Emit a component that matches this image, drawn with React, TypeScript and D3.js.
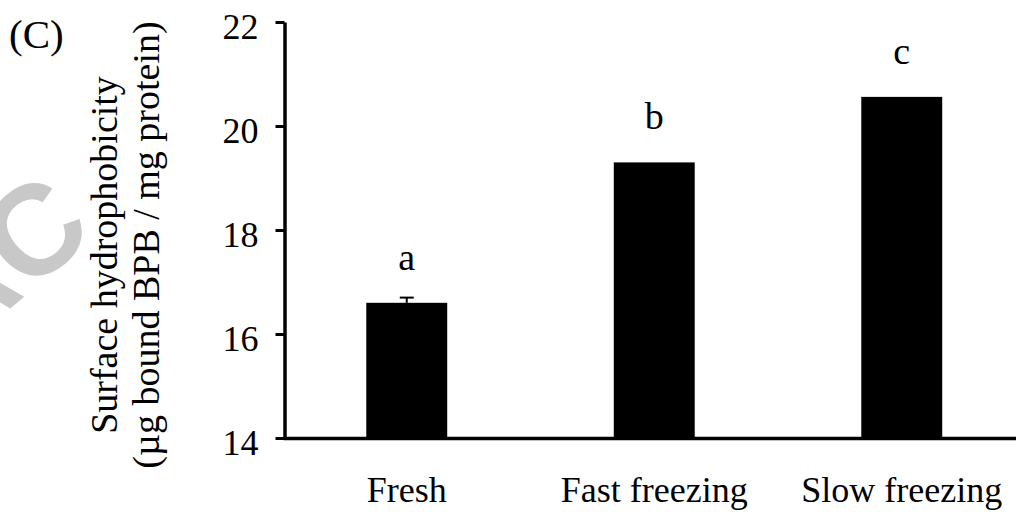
import React, { useEffect, useRef } from 'react';
import * as d3 from 'd3';

const categories = ['Fresh', 'Fast freezing', 'Slow freezing'];
const values = [16.6, 19.3, 20.56];
const errors = [0.1, 0, 0];
const letters = ['a', 'b', 'c'];
const yTicks = [14, 16, 18, 20, 22];

const App = () => {
  const svgRef = useRef<SVGSVGElement>(null);

  useEffect(() => {
    const width = 1016;
    const height = 512;
    const svg = d3.select(svgRef.current);
    svg.selectAll('*').remove();
    svg.attr('width', width).attr('height', height);

    const font = '"Liberation Serif", "Times New Roman", serif';

    // faint watermark fragment at the left edge
    svg.append('text')
      .attr('transform', 'translate(-44,354) rotate(-40)')
      .style('font-family', '"Liberation Sans", Arial, sans-serif')
      .style('font-weight', 'bold')
      .style('font-size', '128px')
      .style('fill', '#c8c8c8')
      .text('AC');

    const x = d3.scaleBand()
      .domain(categories)
      .range([283, 1025.5])
      .paddingInner(0.673)
      .paddingOuter(0.3365);
    const y = d3.scaleLinear().domain([14, 22]).range([438, 22]);

    // bars
    svg.selectAll('rect.bar')
      .data(values)
      .enter()
      .append('rect')
      .attr('class', 'bar')
      .attr('x', (d, i) => x(categories[i]))
      .attr('y', d => y(d))
      .attr('width', x.bandwidth())
      .attr('height', d => y(14) - y(d))
      .style('fill', '#000');

    // error bar (only visible for Fresh)
    values.forEach((v, i) => {
      if (errors[i] <= 0) return;
      const cx = x(categories[i]) + x.bandwidth() / 2;
      svg.append('line')
        .attr('x1', cx).attr('x2', cx)
        .attr('y1', y(v)).attr('y2', y(v + errors[i]))
        .style('stroke', '#000').style('stroke-width', 2);
      svg.append('line')
        .attr('x1', cx - 7).attr('x2', cx + 7)
        .attr('y1', y(v + errors[i])).attr('y2', y(v + errors[i]))
        .style('stroke', '#000').style('stroke-width', 2);
    });

    // significance letters
    svg.selectAll('text.sig')
      .data(letters)
      .enter()
      .append('text')
      .attr('class', 'sig')
      .attr('x', (d, i) => x(categories[i]) + x.bandwidth() / 2)
      .attr('y', (d, i) => y(values[i]) - 33)
      .style('text-anchor', 'middle')
      .style('font-family', font)
      .style('font-size', '38px')
      .text(d => d);

    // y axis
    const yAxis = svg.append('g')
      .attr('transform', 'translate(284.5,0)')
      .call(d3.axisLeft(y).tickValues(yTicks).tickSize(9).tickSizeOuter(0).tickPadding(17));
    yAxis.select('.domain').style('stroke-width', 3.5);
    yAxis.selectAll('.tick line').style('stroke-width', 3);
    yAxis.selectAll('.tick text')
      .attr('dy', '0.45em')
      .style('font-family', font)
      .style('font-size', '36px')
      .style('fill', '#000');

    // x axis
    const xAxis = svg.append('g')
      .attr('transform', 'translate(0,438)')
      .call(d3.axisBottom(x).tickSize(0).tickSizeOuter(0).tickPadding(38));
    xAxis.select('.domain').style('stroke-width', 3.5);
    xAxis.selectAll('.tick text')
      .attr('dy', '0.71em')
      .style('font-family', font)
      .style('font-size', '36px')
      .style('fill', '#000');

    // panel letter
    svg.append('text')
      .attr('x', 9)
      .attr('y', 48)
      .style('font-family', font)
      .style('font-size', '41px')
      .text('(C)');

    // y axis title
    const title = svg.append('text')
      .attr('transform', 'rotate(-90)')
      .style('text-anchor', 'middle')
      .style('font-family', font)
      .style('font-size', '38px');
    title.append('tspan').attr('x', -255).attr('y', 117).text('Surface hydrophobicity');
    title.append('tspan').attr('x', -245).attr('y', 159).text('(\u00b5g bound BPB / mg protein)');
  }, []);

  return (
    <div style={{ position: 'absolute', left: 0, top: 0 }}>
      <svg ref={svgRef} style={{ display: 'block' }}></svg>
    </div>
  );
};

export default App;
